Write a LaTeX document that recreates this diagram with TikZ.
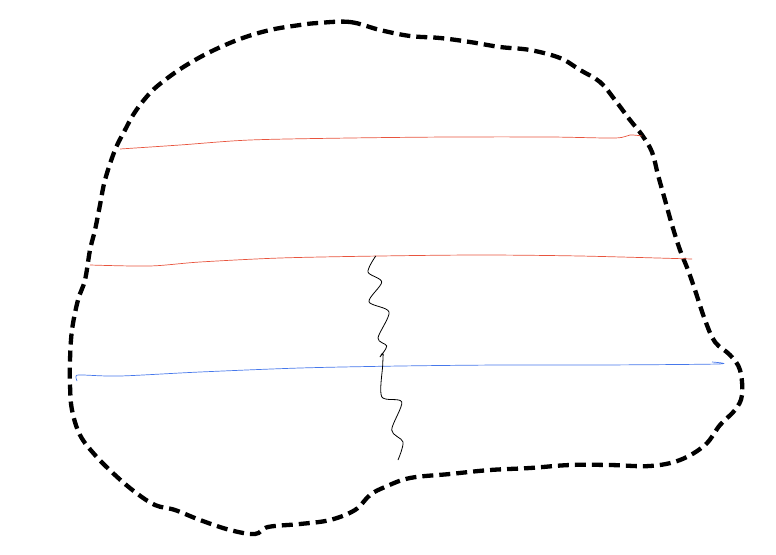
\documentclass[tikz,border=0pt]{standalone}
\begin{document}
\begin{tikzpicture}[x=1pt,y=-1pt,
  blob/.style={line width=4.3pt,dash pattern=on 11pt off 6pt},
  redline/.style={draw={rgb,255:red,232;green,84;blue,62},line width=0.7pt},
  blueline/.style={draw={rgb,255:red,70;green,120;blue,235},line width=0.7pt},
  wave/.style={draw=black,line width=0.8pt}]
\useasboundingbox (0,0) rectangle (776,554);
\draw[blob] plot[smooth cycle,tension=0.6] coordinates {
(318,23) (350,22) (380,30) (410,36) (440,38) (470,42) (500,47) (530,50) (560,58) (580,70) (600,82) (615,100) (630,120) (642,135) (652,152) (658,175) (665,200) (672,225) (680,250) (688,270) (695,290) (705,320) (715,342) (730,355) (740,370) (742,395) (735,410) (720,425) (705,445) (680,460) (650,466) (610,465) (570,465) (530,468) (490,470) (450,474) (410,478) (385,487) (370,495) (355,510) (330,520) (300,524) (268,527) (255,534) (230,530) (200,520) (175,510) (155,505) (135,492) (115,475) (95,455) (80,435) (72,410) (70,385) (70,360) (72,330) (78,300) (85,280) (90,250) (95,230) (100,205) (105,180) (115,150) (125,130) (135,112) (150,93) (165,80) (185,66) (210,52) (240,39) (270,30) (300,25)};
\draw[redline] plot[smooth] coordinates {(120,149) (180,145) (250,140) (350,138) (450,137) (550,137) (615,138) (630,135) (642,136)};
\draw[redline] plot[smooth] coordinates {(90,265) (150,266) (200,262) (280,258) (380,256) (480,255) (580,256) (692,259)};
\draw[blueline] plot[smooth] coordinates {(77,381) (76,376) (82,375) (120,376) (200,372) (300,368) (400,366) (500,365) (600,365) (718,364) (712,362)};
\draw[wave] plot[smooth] coordinates {(375.7,256) (368,272) (381.7,282) (369,301.7) (389,312) (378,338) (386.7,346) (380,357) (383,353) (382.7,365) (381.7,396.7) (401.7,402) (391.7,430) (403,442) (398,460)};
\end{tikzpicture}
\end{document}
